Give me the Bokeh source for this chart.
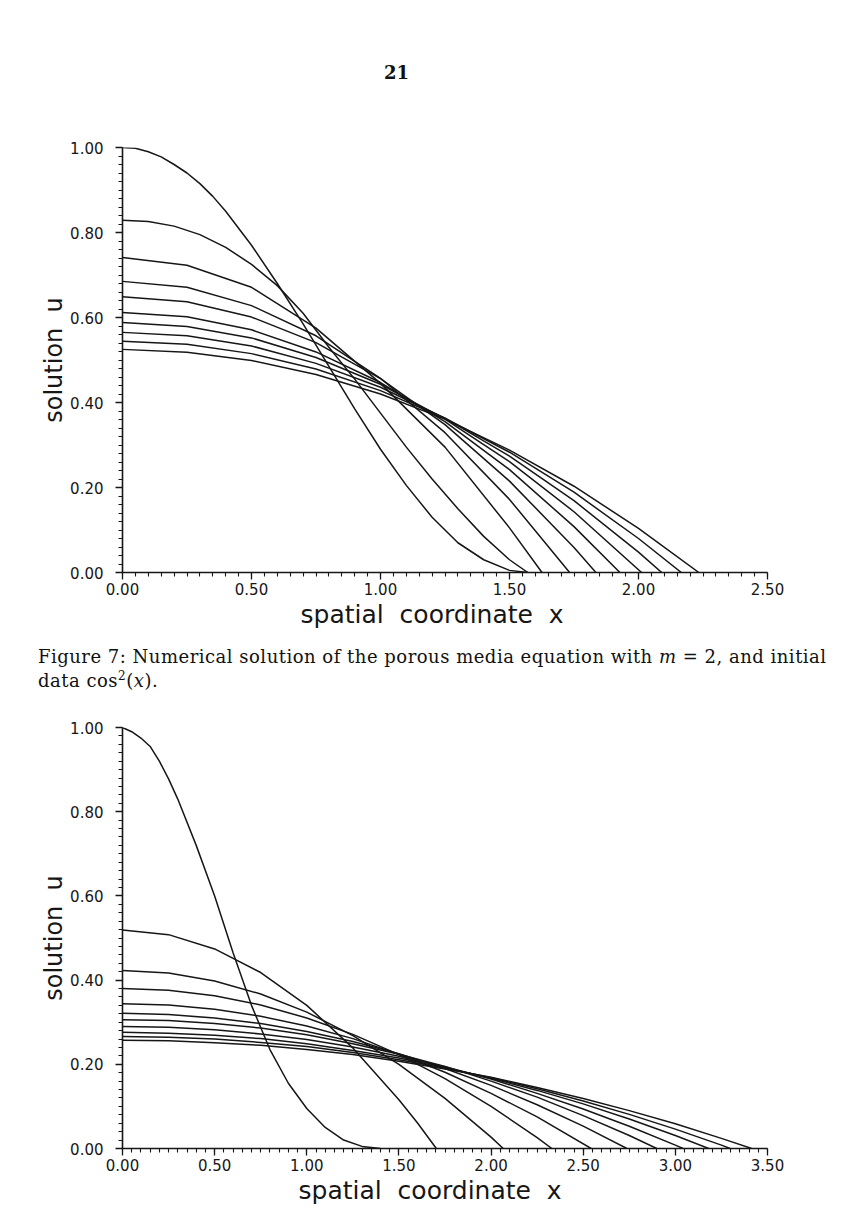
from bokeh.plotting import figure
from bokeh.models import Range1d, Title, Div, PrintfTickFormatter, SingleIntervalTicker
from bokeh.layouts import column
from bokeh.embed import file_html
from bokeh.resources import INLINE

# ---------------- Figure 7: m = 2, initial data cos^2(x) ----------------
X7_INIT = [0.0, 0.05, 0.1, 0.15, 0.2, 0.25, 0.3, 0.35, 0.4, 0.5, 0.6, 0.7, 0.8, 0.9, 1.0, 1.1, 1.2, 1.3, 1.4, 1.5, 1.571]
U7_INIT = [1.00, 0.998, 0.99, 0.978, 0.96, 0.94, 0.915, 0.885, 0.85, 0.77, 0.68, 0.585, 0.485, 0.385, 0.29, 0.205, 0.13, 0.07, 0.03, 0.005, 0.0]

X7_A = [0.0, 0.1, 0.2, 0.3, 0.4, 0.5, 0.6, 0.7, 0.8, 0.9, 1.0, 1.1, 1.2, 1.3, 1.4, 1.5, 1.571]
U7_A = [0.829, 0.826, 0.815, 0.795, 0.765, 0.725, 0.675, 0.61, 0.53, 0.455, 0.375, 0.295, 0.22, 0.15, 0.085, 0.03, 0.0]

X7_B = [0.0, 0.25, 0.5, 0.75, 1.0, 1.25, 1.5, 1.626]
U7_B = [0.741, 0.723, 0.671, 0.575, 0.445, 0.295, 0.105, 0.0]

X7_C = [0.0, 0.25, 0.5, 0.75, 1.0, 1.25, 1.5, 1.733]
U7_C = [0.685, 0.671, 0.628, 0.557, 0.457, 0.329, 0.172, 0.0]

X7_D = [0.0, 0.25, 0.5, 0.75, 1.0, 1.25, 1.5, 1.75, 1.835]
U7_D = [0.649, 0.637, 0.601, 0.541, 0.456, 0.348, 0.215, 0.059, 0.0]

X7_E = [0.0, 0.25, 0.5, 0.75, 1.0, 1.25, 1.5, 1.75, 1.928]
U7_E = [0.612, 0.602, 0.571, 0.519, 0.447, 0.355, 0.242, 0.108, 0.0]

X7_F = [0.0, 0.25, 0.5, 0.75, 1.0, 1.25, 1.5, 1.75, 2.012]
U7_F = [0.588, 0.579, 0.552, 0.506, 0.443, 0.361, 0.261, 0.143, 0.0]

X7_G = [0.0, 0.25, 0.5, 0.75, 1.0, 1.25, 1.5, 1.75, 2.0, 2.09]
U7_G = [0.565, 0.557, 0.533, 0.492, 0.436, 0.363, 0.274, 0.169, 0.048, 0.0]

X7_H = [0.0, 0.25, 0.5, 0.75, 1.0, 1.25, 1.5, 1.75, 2.0, 2.166]
U7_H = [0.544, 0.537, 0.515, 0.479, 0.428, 0.363, 0.283, 0.189, 0.080, 0.0]

X7_I = [0.0, 0.25, 0.5, 0.75, 1.0, 1.25, 1.5, 1.75, 2.0, 2.234]
U7_I = [0.525, 0.518, 0.499, 0.466, 0.420, 0.361, 0.288, 0.203, 0.104, 0.0]

# ---------------- second figure ----------------
X8_INIT = [0.0, 0.05, 0.1, 0.15, 0.2, 0.25, 0.3, 0.4, 0.5, 0.6, 0.7, 0.8, 0.9, 1.0, 1.1, 1.2, 1.3, 1.4]
U8_INIT = [1.00, 0.99, 0.975, 0.955, 0.92, 0.878, 0.83, 0.72, 0.60, 0.465, 0.34, 0.235, 0.155, 0.095, 0.05, 0.02, 0.005, 0.0]

X8_1 = [0.0, 0.25, 0.5, 0.75, 1.0, 1.25, 1.5, 1.6, 1.703]
U8_1 = [0.519, 0.508, 0.474, 0.418, 0.340, 0.239, 0.116, 0.061, 0.0]

X8_2 = [0.0, 0.25, 0.5, 0.75, 1.0, 1.25, 1.5, 1.75, 2.0, 2.066]
U8_2 = [0.423, 0.417, 0.398, 0.367, 0.324, 0.268, 0.200, 0.119, 0.027, 0.0]

X8_3 = [0.0, 0.25, 0.5, 0.75, 1.0, 1.25, 1.5, 1.75, 2.0, 2.25, 2.33]
U8_3 = [0.380, 0.376, 0.363, 0.341, 0.310, 0.271, 0.223, 0.166, 0.100, 0.026, 0.0]

X8_4 = [0.0, 0.25, 0.5, 0.75, 1.0, 1.25, 1.5, 1.75, 2.0, 2.25, 2.543]
U8_4 = [0.344, 0.341, 0.331, 0.314, 0.291, 0.261, 0.224, 0.181, 0.131, 0.075, 0.0]

X8_5 = [0.0, 0.25, 0.5, 0.75, 1.0, 1.25, 1.5, 1.75, 2.0, 2.25, 2.5, 2.737]
U8_5 = [0.321, 0.318, 0.310, 0.297, 0.278, 0.254, 0.225, 0.190, 0.150, 0.104, 0.053, 0.0]

X8_6 = [0.0, 0.25, 0.5, 0.75, 1.0, 1.25, 1.5, 1.75, 2.0, 2.25, 2.5, 2.75, 2.899]
U8_6 = [0.306, 0.304, 0.297, 0.286, 0.270, 0.249, 0.224, 0.195, 0.160, 0.122, 0.078, 0.031, 0.0]

X8_7 = [0.0, 0.25, 0.5, 0.75, 1.0, 1.25, 1.5, 1.75, 2.0, 2.25, 2.5, 2.75, 3.0, 3.042]
U8_7 = [0.290, 0.288, 0.282, 0.272, 0.259, 0.241, 0.219, 0.194, 0.165, 0.131, 0.094, 0.053, 0.008, 0.0]

X8_8 = [0.0, 0.25, 0.5, 0.75, 1.0, 1.25, 1.5, 1.75, 2.0, 2.25, 2.5, 2.75, 3.0, 3.181]
U8_8 = [0.276, 0.274, 0.269, 0.261, 0.249, 0.233, 0.215, 0.192, 0.167, 0.138, 0.106, 0.070, 0.031, 0.0]

X8_9 = [0.0, 0.25, 0.5, 0.75, 1.0, 1.25, 1.5, 1.75, 2.0, 2.25, 2.5, 2.75, 3.0, 3.25, 3.297]
U8_9 = [0.266, 0.264, 0.260, 0.252, 0.242, 0.228, 0.211, 0.191, 0.168, 0.142, 0.113, 0.081, 0.046, 0.008, 0.0]

X8_10 = [0.0, 0.25, 0.5, 0.75, 1.0, 1.25, 1.5, 1.75, 2.0, 2.25, 2.5, 2.75, 3.0, 3.25, 3.414]
U8_10 = [0.257, 0.256, 0.251, 0.245, 0.235, 0.223, 0.207, 0.189, 0.169, 0.145, 0.119, 0.090, 0.059, 0.024, 0.0]

Y_TICK_STEP = 0.2
X_TICK_STEP = 0.5

INK = "#161616"
AXIS_FONT = "DejaVu Sans"
GAP = "\u00a0\u00a0"  # wide word spacing of the axis titles

Y_TITLE = "solution" + GAP + "u"
X_TITLE = "spatial" + GAP + "coordinate" + GAP + "x"


def make_panel(height, xmax, border_left, border_right, border_top, border_bottom,
               curves, ylabel_offset, xlabel_offset):
    p = figure(width=866, height=height,
               x_range=Range1d(0, xmax), y_range=Range1d(0, 1.0),
               min_border_left=border_left, min_border_right=border_right,
               min_border_top=border_top, min_border_bottom=border_bottom,
               output_backend="svg", toolbar_location=None)
    p.outline_line_color = None
    p.grid.visible = False
    p.background_fill_color = "white"
    p.border_fill_color = "white"

    p.xaxis.ticker = SingleIntervalTicker(interval=X_TICK_STEP, num_minor_ticks=10)
    p.yaxis.ticker = SingleIntervalTicker(interval=Y_TICK_STEP, num_minor_ticks=10)
    for ax in (p.xaxis[0], p.yaxis[0]):
        ax.formatter = PrintfTickFormatter(format="%.2f")
        ax.axis_line_color = INK
        ax.axis_line_width = 1.6
        ax.major_tick_line_color = INK
        ax.major_tick_line_width = 1.3
        ax.minor_tick_line_color = INK
        ax.minor_tick_line_width = 1.1
        ax.major_tick_in = 0
        ax.minor_tick_in = 0
        ax.major_tick_out = 7
        ax.minor_tick_out = 4
        ax.major_label_text_font = AXIS_FONT
        ax.major_label_text_font_size = "15px"
        ax.major_label_text_color = INK
    p.yaxis.major_label_standoff = 12
    p.xaxis.major_label_standoff = 3

    for xs, us in curves:
        p.line(xs, us, line_color=INK, line_width=1.5)

    # axis titles set as side titles so they can be placed along their axis
    p.add_layout(Title(text=Y_TITLE, align="center", offset=ylabel_offset,
                       standoff=0, text_font=AXIS_FONT, text_font_size="24px",
                       text_font_style="normal", text_color=INK), "left")
    p.add_layout(Title(text=X_TITLE, align="left", offset=xlabel_offset,
                       standoff=0, text_font=AXIS_FONT, text_font_size="25px",
                       text_font_style="normal", text_color=INK), "below")
    return p


fig7 = make_panel(540, 2.5, 114, 99, 47, 68,
                  [(X7_INIT, U7_INIT), (X7_A, U7_A), (X7_B, U7_B), (X7_C, U7_C),
                   (X7_D, U7_D), (X7_E, U7_E), (X7_F, U7_F), (X7_G, U7_G),
                   (X7_H, U7_H), (X7_I, U7_I)],
                  -8, 178)

fig8 = make_panel(528, 3.5, 122, 95, 27, 80,
                  [(X8_INIT, U8_INIT), (X8_1, U8_1), (X8_2, U8_2), (X8_3, U8_3),
                   (X8_4, U8_4), (X8_5, U8_5), (X8_6, U8_6), (X8_7, U8_7),
                   (X8_8, U8_8), (X8_9, U8_9), (X8_10, U8_10)],
                  -9, 176)

page_number = Div(
    text='<div style="width:866px;height:100px;position:relative;">'
         '<span style="position:absolute;left:384px;top:60px;'
         'font-family:\'DejaVu Serif\';font-weight:bold;font-size:18px;color:#111;">21</span></div>',
    width=866, height=100, margin=(0, 0, 0, 0))

caption = Div(
    text='<div style="width:866px;height:60px;position:relative;">'
         '<div style="position:absolute;left:38px;top:5px;width:826px;white-space:nowrap;'
         'font-family:\'DejaVu Serif\';font-size:18px;letter-spacing:0.5px;line-height:24px;color:#111;">'
         'Figure 7: Numerical solution of the porous media equation with <i>m</i> = 2, and initial<br>'
         'data cos<sup style="font-size:12px;line-height:0;">2</sup>(<i>x</i>).</div></div>',
    width=866, height=60, margin=(0, 0, 0, 0))

page = column(page_number, fig7, caption, fig8, spacing=0)

open("out.html", "w").write(file_html(page, INLINE))
